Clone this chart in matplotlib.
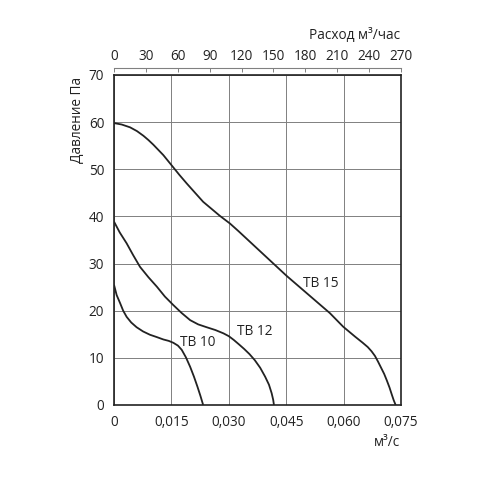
import numpy as np
import matplotlib.pyplot as plt

plt.rcParams['font.family'] = ['Open Sans', 'DejaVu Sans']
plt.rcParams['font.size'] = 9.8

# Curves: flow m3/s vs pressure Pa
tb15_q = [0.0, 0.0020, 0.0042, 0.0060, 0.0077, 0.0090, 0.0103, 0.0116, 0.0129, 0.0141,
          0.0153, 0.0171, 0.0190, 0.0212, 0.0233, 0.0255, 0.0277, 0.0303, 0.0325,
          0.0451, 0.0564, 0.0599, 0.0630, 0.0650, 0.0663, 0.0673, 0.0682, 0.0690,
          0.0698, 0.0706, 0.0713, 0.0720, 0.0726, 0.0731, 0.0736]
tb15_p = [59.8, 59.5, 58.9, 58.1, 57.1, 56.2, 55.2, 54.1, 53.0, 51.8,
          50.6, 48.8, 47.0, 45.0, 43.1, 41.6, 40.1, 38.5, 36.9,
          27.4, 19.5, 16.6, 14.5, 13.2, 12.3, 11.4, 10.4, 9.2,
          7.9, 6.6, 5.2, 3.7, 2.2, 1.0, 0.0]

tb12_q = [0.0, 0.0015, 0.0033, 0.0050, 0.0068, 0.0090, 0.0112, 0.0133, 0.0155, 0.0177,
          0.0199, 0.0220, 0.0242, 0.0265, 0.0286, 0.0300, 0.0313, 0.0326, 0.0340, 0.0354,
          0.0368, 0.0382, 0.0395, 0.0405, 0.0412, 0.0416, 0.0418]
tb12_p = [38.9, 36.6, 34.3, 31.8, 29.3, 27.1, 25.1, 23.0, 21.2, 19.5,
          18.0, 17.1, 16.5, 15.9, 15.2, 14.6, 13.8, 12.9, 11.9, 10.8,
          9.5, 7.9, 6.0, 4.3, 2.5, 1.1, 0.0]

tb10_q = [0.0, 0.0007, 0.0016, 0.0024, 0.0033, 0.0045, 0.0059, 0.0076, 0.0094, 0.0112,
          0.0129, 0.0143, 0.0155, 0.0167, 0.0177, 0.0188, 0.0199, 0.0209, 0.0218,
          0.0226, 0.0233]
tb10_p = [25.5, 23.3, 21.6, 20.0, 18.7, 17.5, 16.5, 15.6, 14.9, 14.4,
          13.9, 13.6, 13.2, 12.6, 11.7, 10.1, 8.1, 6.0, 3.9,
          1.9, 0.0]

labels = ['TB 10', 'TB 12', 'TB 15']
label_pos = [(0.0220, 13.2), (0.0368, 15.6), (0.0541, 25.8)]

x_ticks = [0, 0.015, 0.030, 0.045, 0.060, 0.075]
x_ticklabels = ['0', '0,015', '0,030', '0,045', '0,060', '0,075']
y_ticks = [0, 10, 20, 30, 40, 50, 60, 70]
top_ticks = [0, 30, 60, 90, 120, 150, 180, 210, 240, 270]

fig = plt.figure(figsize=(4.8, 4.8), dpi=100)
ax = fig.add_axes([114 / 480, 75 / 480, 287 / 480, 330 / 480])

line_c = '#222222'
for q, p in [(tb15_q, tb15_p), (tb12_q, tb12_p), (tb10_q, tb10_p)]:
    ax.plot(q, p, color=line_c, lw=1.3, solid_capstyle='butt', solid_joinstyle='round')

for lab, (lx, ly) in zip(labels, label_pos):
    ax.text(lx, ly, lab, ha='center', va='center', color=line_c)

ax.set_xlim(0, 0.075)
ax.set_ylim(0, 70)
ax.set_xticks(x_ticks)
ax.set_xticklabels(x_ticklabels)
ax.set_yticks(y_ticks)
ax.grid(True, color='#808080', lw=0.7)
ax.tick_params(length=0, pad=7, colors=line_c)
for s in ax.spines.values():
    s.set_linewidth(1.2)
    s.set_color(line_c)

secax = ax.secondary_xaxis('top', functions=(lambda x: x * 3600, lambda x: x / 3600))
secax.set_xticks(top_ticks)
secax.spines['top'].set_position(('outward', 5))
secax.spines['top'].set_color('#808080')
secax.spines['top'].set_linewidth(0.8)
secax.tick_params(direction='in', length=3, width=0.7, color='#808080', pad=3, labelcolor=line_c)

fig.text(400 / 480, 1 - 35 / 480, 'Расход м³/час', ha='right', va='center', color=line_c)
fig.text(400 / 480, 1 - 443 / 480, 'м³/с', ha='right', va='center', color=line_c)
fig.text(77 / 480, 1 - 120 / 480, 'Давление Па', ha='center', va='center',
         rotation=90, color=line_c)

fig.savefig('out.png', dpi=100)
